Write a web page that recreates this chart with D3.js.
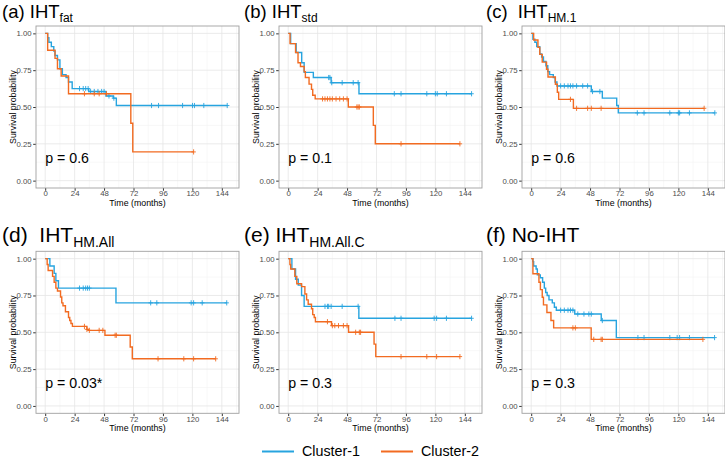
<!DOCTYPE html>
<html>
<head>
<meta charset="utf-8">
<script src="https://cdnjs.cloudflare.com/ajax/libs/d3/7.8.5/d3.min.js"></script>
<style>
body { margin: 0; background: #fff; }
svg { display: block; font-family: "Liberation Sans", Arial, sans-serif; }
</style>
</head>
<body>
<div id="chart"></div>
<script>
// panel labels
var panelLabels = ["(a) IHT", "(b) IHT", "(c)  IHT", "(d)  IHT", "(e) IHT", "(f) No-IHT"];
var panelSubs = ["fat", "std", "HM.1", "HM.All", "HM.All.C", ""];
var pValues = ["p = 0.6", "p = 0.1", "p = 0.6", "p = 0.03*", "p = 0.3", "p = 0.3"];
var clusters = ["Cluster-1", "Cluster-2"];
var xTicks = [0, 24, 48, 72, 96, 120, 144];
var yTicks = [0, 0.25, 0.5, 0.75, 1];

// KM steps [time, survival] and censor times, cluster 1 / cluster 2
var fat1 = [[0,1],[2,0.97],[3,0.94],[5,0.91],[7,0.88],[8,0.85],[10,0.82],[12,0.76],[14,0.72],[17,0.70],[19,0.67],[22,0.625],[35.5,0.605],[49.5,0.575],[55.5,0.56],[58,0.51]];
var fat1Cens = [28,31,33,35,37,40,43,46,48,52,56,86.7,92.4,112,120.1,121.7,129.3,148.4];
var fat2 = [[0,1],[2,0.885],[8,0.83],[10,0.76],[13,0.71],[19,0.59],[69.8,0.39],[71.4,0.195]];
var fat2Cens = [32,40,44,50,121];

var std1 = [[0,1],[2,0.93],[6.5,0.87],[11,0.80],[13,0.735],[20.5,0.70],[35,0.665],[57.7,0.59]];
var std1Cens = [33,34,35.5,44,53,57,86.5,92,113,120,121.5,129,149.5];
var std2 = [[0,1],[1.5,0.93],[6,0.87],[8,0.80],[10,0.775],[13,0.74],[14,0.70],[17,0.655],[19,0.62],[20,0.58],[22,0.555],[49,0.50],[69.4,0.375],[71,0.25]];
var std2Cens = [28,30,32,34,36,39,42,45,48,56,57,58,92,140];

var hm11 = [[0,1],[1.4,0.96],[3,0.94],[4.5,0.91],[7,0.86],[8.5,0.84],[10,0.81],[12,0.78],[13.5,0.74],[15,0.72],[18,0.70],[19.5,0.67],[21,0.643],[49,0.605],[58,0.56],[69.7,0.51],[71,0.46]];
var hm11Cens = [24,27,30,32,34,37,42,46,50,56,86.5,92,113,120,121,129,149.7];
var hm12 = [[0,1],[2,0.955],[5.5,0.905],[7,0.857],[9,0.805],[12.5,0.756],[13.7,0.704],[19.7,0.654],[21.3,0.60],[22.4,0.552],[34.4,0.491]];
var hm12Cens = [32,37,46,49,57,141];

var all1 = [[0,1],[3.8,0.95],[7.3,0.90],[8.7,0.85],[10.8,0.80],[57.7,0.70]];
var all1Cens = [28,31,33,34.5,36,86,91,119,121,128,148];
var all2 = [[0,1],[1.6,0.96],[2.4,0.92],[6,0.88],[7.3,0.84],[8.7,0.80],[10,0.78],[12.5,0.74],[13.5,0.70],[14.5,0.68],[16.5,0.64],[19,0.60],[20,0.58],[21,0.56],[22.2,0.54],[34,0.52],[35.2,0.513],[48.7,0.48],[69.3,0.40],[71,0.32]];
var all2Cens = [32,34,36,44,47,57,58,92,113,121,139];

var allC1 = [[0,1],[3,0.93],[6,0.86],[8.2,0.82],[10.9,0.75],[13,0.676],[57.6,0.595]];
var allC1Cens = [30,32,33,35,44,57,87,92,119,121,129,149.5];
var allC2 = [[0,1],[1.4,0.96],[2,0.93],[5.4,0.88],[7,0.83],[10.9,0.81],[13.6,0.76],[15,0.72],[16.3,0.69],[19,0.66],[20,0.62],[21.2,0.60],[22.2,0.572],[35.3,0.545],[49.2,0.50],[70,0.42],[71.4,0.335]];
var allC2Cens = [32,36,38,41,45,48,55,58,59,92,113,121,140];

var no1 = [[0,1],[1.4,0.98],[2,0.95],[4,0.93],[5,0.89],[7.4,0.87],[9.3,0.84],[10.7,0.80],[11.8,0.77],[13,0.75],[14.5,0.72],[17.2,0.70],[18.9,0.67],[20.5,0.65],[35.5,0.624],[57.1,0.58],[69.4,0.464]];
var no1Cens = [24,27,30,32,34,38,43,47,49,58,87,92,113,119,121,129,149.5];
var no2 = [[0,1],[1.4,0.898],[6.3,0.84],[7.5,0.79],[9,0.738],[10,0.686],[12.8,0.634],[16.1,0.58],[18.3,0.53],[48.9,0.452]];
var no2Cens = [34,36,51,57,58,140];

var panelSteps = [[fat1, fat2], [std1, std2], [hm11, hm12], [all1, all2], [allC1, allC2], [no1, no2]];
var panelCens = [[fat1Cens, fat2Cens], [std1Cens, std2Cens], [hm11Cens, hm12Cens], [all1Cens, all2Cens], [allC1Cens, allC2Cens], [no1Cens, no2Cens]];

var colors = ["#27a4df", "#f26b21"];
var W = 725, H = 458;
var colLeft = [36, 279, 522], rowTop = [26, 251.3];
var pw = 203, ph = 162;

var svg = d3.select("#chart").append("svg")
    .attr("width", W)
    .attr("height", H);

function survAt(steps, t) {
    var s = 1;
    steps.forEach(function(d) { if (d[0] <= t) s = d[1]; });
    return s;
}

panelLabels.forEach(function(label, i) {
    var row = Math.floor(i / 3), col = i % 3;
    var big = row === 1;

    var x = d3.scaleLinear().domain([-7.5, 158]).range([0, pw]);
    var y = d3.scaleLinear().domain([-0.05, 1.05]).range([ph, 0]);

    var g = svg.append("g")
        .attr("transform", "translate(" + colLeft[col] + "," + rowTop[row] + ")");

    // title
    var title = g.append("text")
        .attr("x", (col === 0 ? 2 : 244 + (col - 1) * 242) - colLeft[col])
        .attr("y", big ? -9 : -8)
        .attr("font-size", big ? 21 : 18.5)
        .attr("fill", "#000")
        .style("white-space", "pre")
        .text(label);
    if (panelSubs[i]) {
        title.append("tspan")
            .attr("dy", big ? 5 : 4)
            .attr("font-size", big ? 14 : 12)
            .text(panelSubs[i]);
    }

    // grid
    var grid = g.append("g");
    var xMinor = d3.range(12, 158, 24), yMinor = [0.125, 0.375, 0.625, 0.875];
    grid.selectAll(".vminor").data(xMinor).enter().append("line")
        .attr("x1", function(d) { return x(d); }).attr("x2", function(d) { return x(d); })
        .attr("y1", 0).attr("y2", ph)
        .attr("stroke", "#f3f3f3").attr("stroke-width", 0.6);
    grid.selectAll(".hminor").data(yMinor).enter().append("line")
        .attr("y1", function(d) { return y(d); }).attr("y2", function(d) { return y(d); })
        .attr("x1", 0).attr("x2", pw)
        .attr("stroke", "#f3f3f3").attr("stroke-width", 0.6);
    grid.selectAll(".vmajor").data(xTicks).enter().append("line")
        .attr("x1", function(d) { return x(d); }).attr("x2", function(d) { return x(d); })
        .attr("y1", 0).attr("y2", ph)
        .attr("stroke", "#e6e6e6").attr("stroke-width", 0.8);
    grid.selectAll(".hmajor").data(yTicks).enter().append("line")
        .attr("y1", function(d) { return y(d); }).attr("y2", function(d) { return y(d); })
        .attr("x1", 0).attr("x2", pw)
        .attr("stroke", "#e6e6e6").attr("stroke-width", 0.8);

    // axes
    var xAxis = g.append("g")
        .attr("transform", "translate(0," + ph + ")")
        .call(d3.axisBottom(x).tickValues(xTicks).tickSize(2.8).tickPadding(0));
    var yAxis = g.append("g")
        .call(d3.axisLeft(y).tickValues(yTicks).tickFormat(d3.format(".2f")).tickSize(2.8).tickPadding(1.5));
    [xAxis, yAxis].forEach(function(a) {
        a.select(".domain").remove();
        a.selectAll("line").attr("stroke", "#333");
        a.selectAll("text").attr("fill", "#4d4d4d").attr("font-size", 7.8)
            .attr("font-family", "Liberation Sans, Arial, sans-serif");
    });

    // curves
    var line = d3.line()
        .x(function(d) { return x(d[0]); })
        .y(function(d) { return y(d[1]); })
        .curve(d3.curveStepAfter);

    panelSteps[i].forEach(function(steps, k) {
        var cens = panelCens[i][k];
        var endT = Math.max(steps[steps.length - 1][0], d3.max(cens));
        var pts = steps.concat([[endT, steps[steps.length - 1][1]]]);
        g.append("path")
            .datum(pts)
            .attr("fill", "none")
            .attr("stroke", colors[k])
            .attr("stroke-width", 1.4)
            .attr("d", line);
        var marks = g.append("g").selectAll("g").data(cens).enter().append("g")
            .attr("transform", function(t) { return "translate(" + x(t) + "," + y(survAt(steps, t)) + ")"; });
        marks.append("line").attr("x1", 0).attr("x2", 0).attr("y1", -2.6).attr("y2", 2.6)
            .attr("stroke", colors[k]).attr("stroke-width", 0.9);
        marks.append("line").attr("x1", -2.2).attr("x2", 2.2).attr("y1", 0).attr("y2", 0)
            .attr("stroke", colors[k]).attr("stroke-width", 0.9);
    });

    // border
    g.append("rect")
        .attr("width", pw).attr("height", ph)
        .attr("fill", "none").attr("stroke", "#a0a0a0").attr("stroke-width", 0.9);

    // p value
    g.append("text")
        .attr("x", x(0))
        .attr("y", y(0.123))
        .attr("font-size", 14.2)
        .attr("fill", "#000")
        .text(pValues[i]);

    // axis titles
    g.append("text")
        .attr("x", pw / 2)
        .attr("y", ph + 17.5)
        .attr("text-anchor", "middle")
        .attr("font-size", 8.8)
        .text("Time (months)");
    g.append("text")
        .attr("transform", "translate(" + (-20.5) + "," + (ph / 2) + ") rotate(-90)")
        .attr("text-anchor", "middle")
        .attr("font-size", 8.8)
        .text("Survival probability");
});

// legend
var legend = svg.append("g").attr("transform", "translate(262,451.5)");
var legendX = d3.scaleOrdinal().domain(clusters).range([0, 119]);
clusters.forEach(function(c, k) {
    var lg = legend.append("g").attr("transform", "translate(" + legendX(c) + ",0)");
    lg.append("line").attr("x1", 0).attr("x2", 32).attr("y1", 0).attr("y2", 0)
        .attr("stroke", colors[k]).attr("stroke-width", 2);
    lg.append("text").attr("x", 40).attr("y", 4.5).attr("font-size", 14.3)
        .attr("fill", "#000").text(c);
});
</script>
</body>
</html>
